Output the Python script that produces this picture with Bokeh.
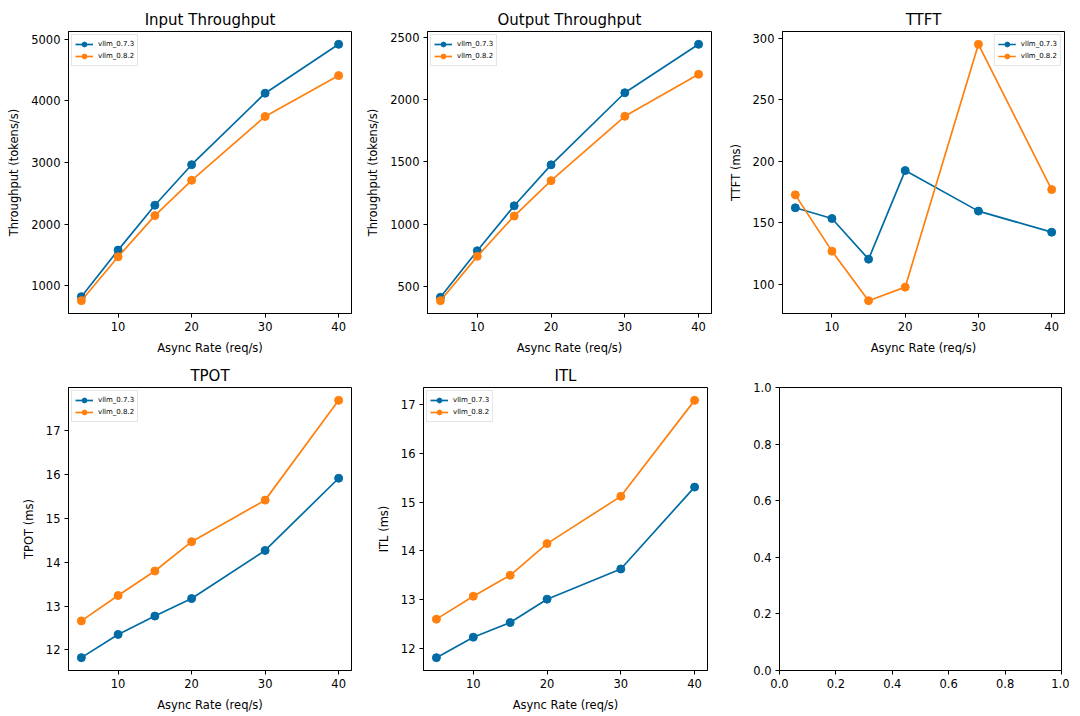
from bokeh.plotting import figure
from bokeh.layouts import column, row
from bokeh.models import Range1d, FixedTicker, PrintfTickFormatter
from bokeh.embed import file_html
from bokeh.resources import INLINE

# ---- data ----
rates = [5, 10, 15, 20, 30, 40]
series_names = ["vllm_0.7.3", "vllm_0.8.2"]
series_colors = ["#006BA4", "#FF800E"]

input_073 = [822, 1577, 2305, 2962, 4121, 4914]
input_082 = [757, 1469, 2137, 2709, 3744, 4407]
output_073 = [412, 786, 1147, 1476, 2055, 2444]
output_082 = [385, 741, 1065, 1349, 1866, 2203]
ttft_073 = [162.2, 153.5, 120.5, 192.4, 159.5, 142.4]
ttft_082 = [172.7, 127.0, 86.8, 97.8, 294.9, 177.0]
tpot_073 = [11.82, 12.35, 12.77, 13.17, 14.27, 15.92]
tpot_082 = [12.66, 13.24, 13.80, 14.47, 15.42, 17.70]
itl_073 = [11.81, 12.23, 12.53, 13.01, 13.63, 15.31]
itl_082 = [12.60, 13.07, 13.50, 14.15, 15.12, 17.09]

x_ticks = [10, 20, 30, 40]
input_ticks = [1000, 2000, 3000, 4000, 5000]
output_ticks = [500, 1000, 1500, 2000, 2500]
ttft_ticks = [100, 150, 200, 250, 300]
tpot_ticks = [12, 13, 14, 15, 16, 17]
itl_ticks = [12, 13, 14, 15, 16, 17]
empty_ticks = [0.0, 0.2, 0.4, 0.6, 0.8, 1.0]

FONT = "DejaVu Sans"
TICK_SIZE = "11.5px"


def padded(vals, frac=0.05):
    lo, hi = min(vals), max(vals)
    span = hi - lo
    return Range1d(lo - frac * span, hi + frac * span)


def style(p):
    p.toolbar_location = None
    p.outline_line_color = "#000000"
    p.outline_line_width = 1
    p.xgrid.visible = False
    p.ygrid.visible = False
    for ax in (p.xaxis[0], p.yaxis[0]):
        ax.major_label_text_font = FONT
        ax.major_label_text_font_size = TICK_SIZE
        ax.major_label_text_color = "#000000"
        ax.axis_label_text_font = FONT
        ax.axis_label_text_font_size = TICK_SIZE
        ax.axis_label_text_font_style = "normal"
        ax.axis_label_text_color = "#000000"
        ax.axis_line_color = "#000000"
        ax.major_tick_line_color = "#000000"
        ax.major_tick_out = 4
        ax.major_tick_in = 0
        ax.minor_tick_line_color = None
        ax.major_label_standoff = 4
        ax.axis_label_standoff = 7
    p.yaxis[0].major_label_orientation = "horizontal"
    p.title.text_font = FONT
    p.title.text_font_size = "15px"
    p.title.text_font_style = "normal"
    p.title.text_color = "#000000"
    p.title.align = "center"
    p.title.standoff = 6


def make_fig(title, ylabel, y1, y2, yticks, legend_loc, borders, fw, fh):
    left, right, top, bottom = borders
    p = figure(output_backend="svg", toolbar_location=None,
               frame_width=fw, frame_height=fh, title=title,
               min_border_left=left, min_border_right=right,
               min_border_top=top, min_border_bottom=bottom,
               x_range=padded(rates), y_range=padded(y1 + y2))
    for ys, name, col in zip((y1, y2), series_names, series_colors):
        p.line(rates, ys, line_color=col, line_width=1.7, legend_label=name)
        p.scatter(rates, ys, marker="circle", size=8, fill_color=col,
                  line_color=col, legend_label=name)
    style(p)
    p.xaxis[0].ticker = FixedTicker(ticks=x_ticks)
    p.yaxis[0].ticker = FixedTicker(ticks=yticks)
    p.xaxis[0].axis_label = "Async Rate (req/s)"
    p.yaxis[0].axis_label = ylabel
    lg = p.legend[0]
    lg.location = legend_loc
    lg.label_text_font = FONT
    lg.label_text_font_size = "7px"
    lg.label_text_color = "#000000"
    lg.glyph_width = 18
    lg.glyph_height = 12
    lg.label_height = 10
    lg.label_standoff = 5
    lg.spacing = 0
    lg.padding = 3
    lg.margin = 3
    lg.border_line_color = "#cccccc"
    lg.border_line_width = 1
    lg.background_fill_alpha = 0.8
    return p


def make_empty(borders, fw, fh):
    left, right, top, bottom = borders
    p = figure(output_backend="svg", toolbar_location=None,
               frame_width=fw, frame_height=fh,
               min_border_left=left, min_border_right=right,
               min_border_top=top, min_border_bottom=bottom,
               x_range=Range1d(0, 1), y_range=Range1d(0, 1))
    style(p)
    p.xaxis[0].ticker = FixedTicker(ticks=empty_ticks)
    p.yaxis[0].ticker = FixedTicker(ticks=empty_ticks)
    p.xaxis[0].formatter = PrintfTickFormatter(format="%.1f")
    p.yaxis[0].formatter = PrintfTickFormatter(format="%.1f")
    return p


B1 = (68, 12, 31, 44)
B2 = (56, 14, 31, 44)
B3 = (55, 8, 31, 44)
C1 = (68, 16, 30, 40)
C2 = (56, 17, 30, 40)
C3 = (55, 8, 30, 40)

p1 = make_fig("Input Throughput", "Throughput (tokens/s)", input_073, input_082,
              input_ticks, "top_left", B1, 283, 282)
p2 = make_fig("Output Throughput", "Throughput (tokens/s)", output_073, output_082,
              output_ticks, "top_left", B2, 284, 282)
p3 = make_fig("TTFT", "TTFT (ms)", ttft_073, ttft_082,
              ttft_ticks, "top_right", B3, 282, 282)
p4 = make_fig("TPOT", "TPOT (ms)", tpot_073, tpot_082,
              tpot_ticks, "top_left", C1, 283, 283)
p5 = make_fig("ITL", "ITL (ms)", itl_073, itl_082,
              itl_ticks, "top_left", C2, 284, 283)
p6 = make_empty(C3, 282, 283)

layout = column(row(p1, p2, p3), row(p4, p5, p6))

open("out.html", "w").write(file_html(layout, INLINE))
